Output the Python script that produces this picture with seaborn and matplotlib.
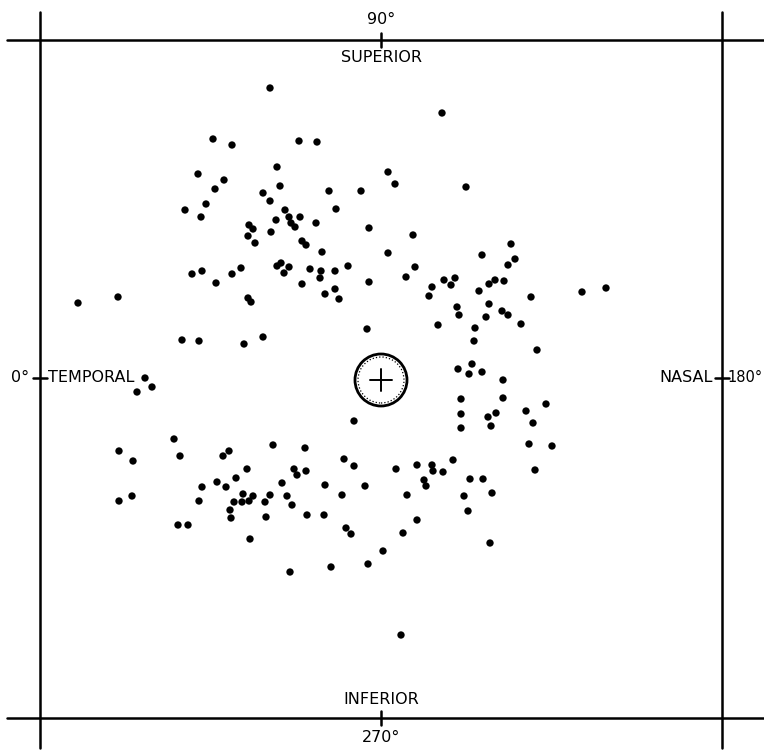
import numpy as np
import pandas as pd
import matplotlib
matplotlib.use("Agg")
import matplotlib.pyplot as plt
from matplotlib.patches import Circle
import seaborn as sns

# stimulus positions (pixel grid of the original plate)
px = [270, 442, 213, 232, 299, 317, 277, 388, 198, 224, 395, 280, 466, 215, 329, 361,
      263, 270, 206, 185, 336, 285, 201, 289, 300, 276, 291, 316, 249, 295, 253, 369,
      271, 413, 248, 302, 255, 511, 306, 322, 388, 482, 515, 281, 508, 241, 277, 348,
      415, 289, 310, 202, 321, 335, 232, 192, 284, 455, 406, 320, 444, 495, 504, 369,
      216, 302, 489, 451, 432, 606, 335, 479, 582, 325, 429, 531, 118, 248, 339, 78,
      251, 489, 457, 502, 459, 508, 486, 521, 438, 475, 367, 263, 182, 199, 474, 244,
      537, 472, 458, 482, 469, 145, 503, 152, 137, 503, 461, 546, 526, 496, 461, 488,
      354, 533, 491, 461, 174, 529, 273, 552, 305, 229, 119, 180, 223, 344, 453, 133,
      432, 417, 354, 396, 247, 294, 535, 306, 433, 443, 297, 236, 483, 470, 424, 217,
      282, 325, 365, 426, 202, 226, 492, 243, 407, 270, 342, 464, 253, 287, 132, 119,
      199, 234, 242, 249, 265, 292, 230, 468, 307, 324, 266, 231, 417, 178, 188, 346,
      403, 351, 250, 490, 383, 368, 331, 290, 401]
py = [88, 113, 139, 145, 141, 142, 167, 172, 174, 180, 184, 186, 187, 189, 191, 191,
      193, 201, 204, 210, 209, 210, 217, 217, 217, 220, 223, 223, 225, 227, 229, 228,
      232, 235, 236, 241, 243, 244, 245, 252, 253, 255, 259, 263, 265, 268, 266, 266,
      267, 267, 269, 271, 271, 271, 274, 274, 273, 278, 277, 278, 280, 280, 281, 282,
      283, 284, 284, 285, 287, 288, 289, 291, 292, 294, 296, 297, 297, 298, 299, 303,
      302, 304, 307, 311, 315, 315, 317, 324, 325, 328, 329, 337, 340, 341, 341, 344,
      350, 364, 369, 372, 374, 378, 380, 387, 392, 398, 399, 404, 411, 413, 414, 417,
      421, 423, 426, 428, 439, 444, 445, 446, 448, 451, 451, 456, 456, 459, 460, 461,
      465, 465, 466, 469, 469, 469, 470, 471, 471, 472, 475, 478, 479, 479, 480, 482,
      483, 485, 486, 486, 487, 487, 493, 494, 495, 495, 495, 496, 496, 496, 496, 501,
      501, 502, 502, 501, 502, 505, 510, 511, 515, 515, 517, 518, 520, 525, 525, 528,
      533, 534, 539, 543, 551, 564, 567, 572, 635]

CX, CY = 381, 380
df = pd.DataFrame({"x": np.array(px) - CX, "y": CY - np.array(py)})

sns.set_style("white")
plt.rcParams["font.family"] = ["DejaVu Sans"]
plt.rcParams["text.color"] = "black"

fig = plt.figure(figsize=(7.64, 7.51), dpi=100)
ax = fig.add_axes([0, 0, 1, 1])

sns.scatterplot(data=df, x="x", y="y", ax=ax, color="black", s=28,
                edgecolor="none", legend=False, zorder=3)

# frame
L, R, T, B = -341, 341, 340, -338
lw = 1.8
ax.plot([-374, 383], [T, T], color="black", lw=lw)
ax.plot([-374, 383], [B, B], color="black", lw=lw)
ax.plot([L, L], [368, -368], color="black", lw=lw)
ax.plot([R, R], [368, -368], color="black", lw=lw)

# crossing ticks at the meridians
tk = 7
ax.plot([0, 0], [T - tk, T + tk], color="black", lw=lw)
ax.plot([0, 0], [B - tk, B + tk], color="black", lw=lw)
ax.plot([L - tk, L + tk], [2, 2], color="black", lw=lw)
ax.plot([R - tk, R + tk], [2, 2], color="black", lw=lw)

# fixation target
ax.add_patch(Circle((0, 0), 26, fill=False, lw=2.0, color="black", zorder=4))
ax.add_patch(Circle((0, 0), 23, fill=False, lw=0.9, ls=":", color="black", zorder=4))
ax.plot([-11, 11], [0, 0], color="black", lw=1.4)
ax.plot([0, 0], [-11, 11], color="black", lw=1.4)

fs = 11.5
ax.text(0, 360, "90°", ha="center", va="center", fontsize=fs)
ax.text(0, 323, "SUPERIOR", ha="center", va="center", fontsize=fs)
ax.text(0, -320, "INFERIOR", ha="center", va="center", fontsize=fs)
ax.text(0, -357, "270°", ha="center", va="center", fontsize=fs)
ax.text(-361, 2, "0°", ha="center", va="center", fontsize=fs)
ax.text(L + 8, 2, "TEMPORAL", ha="left", va="center", fontsize=fs)
ax.text(R - 9, 2, "NASAL", ha="right", va="center", fontsize=fs)
ax.text(382, 2, "180°", ha="right", va="center", fontsize=10.5)

ax.set_xlim(-CX, 764 - CX)
ax.set_ylim(CY - 751, CY)
ax.set_aspect("equal")
ax.axis("off")

fig.savefig("out.png", dpi=100, facecolor="white")
